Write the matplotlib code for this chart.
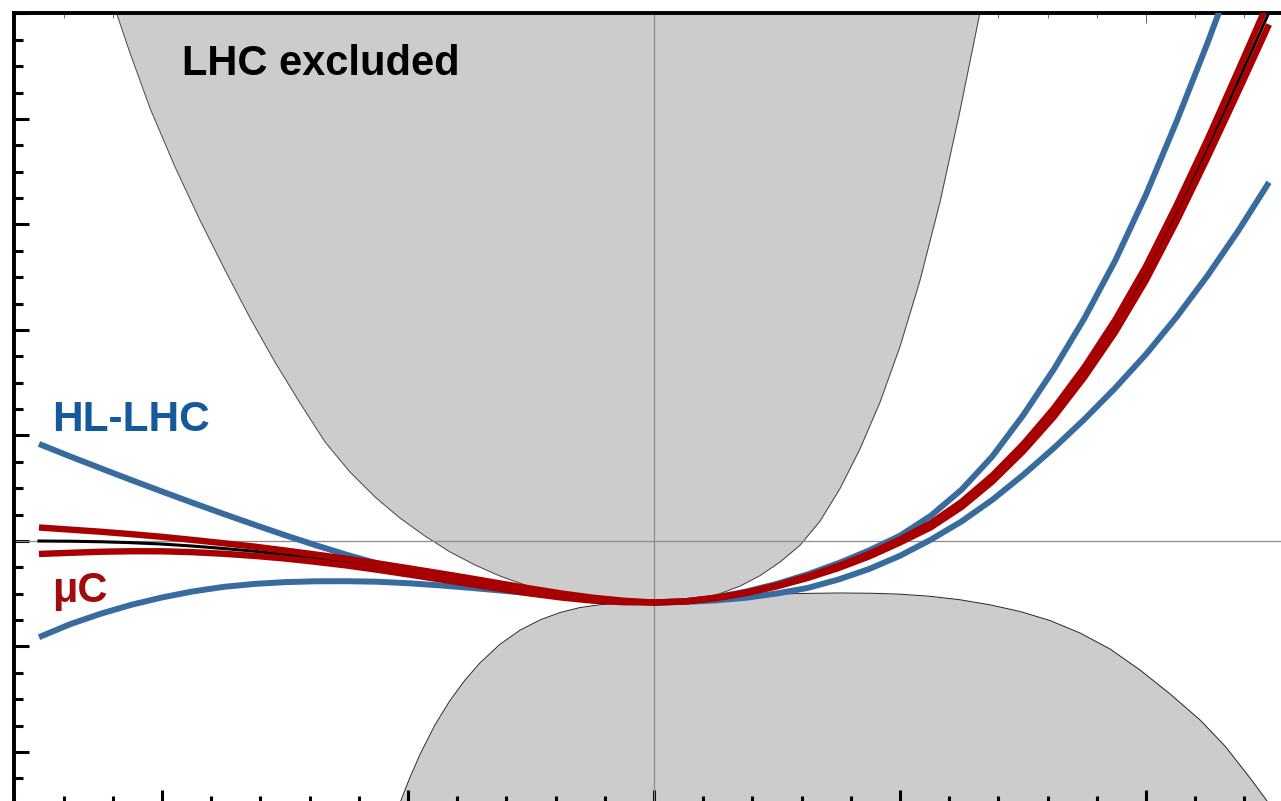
import matplotlib.pyplot as plt
from matplotlib.ticker import MultipleLocator, NullFormatter

plt.rcParams['font.family'] = ['Liberation Sans', 'DejaVu Sans']

# field value (major tick = 1) and potential (major tick = 1)
h = [-2.5, -2.375, -2.25, -2.125, -2.0, -1.875, -1.75, -1.625, -1.5, -1.375, -1.25,
     -1.125, -1.0, -0.875, -0.75, -0.625, -0.5, -0.375, -0.25, -0.125, 0.0,
     0.125, 0.25, 0.375, 0.5, 0.625, 0.75, 0.875, 1.0, 1.125, 1.25,
     1.375, 1.5, 1.625, 1.75, 1.875, 2.0, 2.125, 2.25, 2.375, 2.5]

v_sm = [0.0, -0.002, -0.007, -0.016, -0.029, -0.048, -0.071, -0.097, -0.128, -0.163, -0.200,
        -0.242, -0.287, -0.333, -0.380, -0.428, -0.475, -0.517, -0.551, -0.573, -0.583,
        -0.573, -0.541, -0.491, -0.425, -0.343, -0.246, -0.134, 0.0, 0.149, 0.346,
        0.591, 0.882, 1.216, 1.602, 2.038, 2.538, 3.11, 3.72, 4.36, 5.01]

muc_a = [0.128, 0.108, 0.088, 0.065, 0.0395, 0.010, -0.021, -0.053, -0.090, -0.1285, -0.168,
         -0.2115, -0.2575, -0.3045, -0.3525, -0.4025, -0.4515, -0.498, -0.537, -0.566, -0.583,
         -0.573, -0.543, -0.494, -0.430, -0.350, -0.256, -0.146, -0.014, 0.130, 0.322,
         0.563, 0.849, 1.176, 1.555, 1.981, 2.472, 3.034, 3.635, 4.26, 4.896]
muc_b = [-0.123, -0.112, -0.102, -0.097, -0.0975, -0.106, -0.121, -0.141, -0.166, -0.1975, -0.232,
         -0.2725, -0.3165, -0.3615, -0.4075, -0.4535, -0.4985, -0.536, -0.565, -0.580, -0.583,
         -0.573, -0.539, -0.488, -0.420, -0.336, -0.236, -0.122, 0.014, 0.168, 0.370,
         0.619, 0.915, 1.256, 1.649, 2.095, 2.604, 3.186, 3.805, 4.46, 5.124]

hl_a = [0.92, 0.803, 0.69, 0.578, 0.469, 0.362, 0.257, 0.155, 0.055, -0.040, -0.130,
        -0.212, -0.286, -0.350, -0.405, -0.452, -0.493, -0.528, -0.557, -0.575, -0.583,
        -0.578, -0.563, -0.538, -0.497, -0.445, -0.365, -0.265, -0.14, 0.012, 0.185,
        0.39, 0.625, 0.88, 1.155, 1.45, 1.77, 2.125, 2.515, 2.94, 3.40]
hl_b = [-0.912, -0.79, -0.69, -0.605, -0.535, -0.478, -0.435, -0.407, -0.390, -0.382, -0.381,
        -0.386, -0.40, -0.42, -0.443, -0.469, -0.496, -0.522, -0.548, -0.571, -0.583,
        -0.571, -0.535, -0.479, -0.406, -0.316, -0.21, -0.089, 0.05, 0.239, 0.486,
        0.801, 1.19, 1.626, 2.112, 2.658, 3.283, 3.98, 4.72, 5.50, 6.30]

# edges of the LHC excluded regions
up_x = [-2.203, -2.130, -2.049, -1.947, -1.846, -1.744, -1.642, -1.541, -1.439, -1.337,
        -1.236, -1.134, -1.033, -0.931, -0.829, -0.728, -0.626, -0.524, -0.423, -0.321,
        -0.220, -0.110, 0.0, 0.106, 0.187, 0.268, 0.350, 0.431, 0.512, 0.594, 0.675,
        0.756, 0.837, 0.919, 1.0, 1.081, 1.163, 1.244, 1.325, 1.346]
up_y = [5.128, 4.626, 4.104, 3.545, 3.043, 2.569, 2.114, 1.697, 1.308, 0.938,
        0.654, 0.417, 0.218, 0.047, -0.104, -0.227, -0.332, -0.417, -0.483, -0.531,
        -0.564, -0.581, -0.583, -0.571, -0.544, -0.499, -0.427, -0.328, -0.200, -0.039, 0.189,
        0.497, 0.871, 1.317, 1.843, 2.468, 3.217, 4.080, 5.009, 5.245]

lo_x = [-1.053, -1.033, -0.992, -0.951, -0.890, -0.829, -0.768, -0.707, -0.626, -0.545,
        -0.463, -0.382, -0.301, -0.220, -0.110, 0.0, 0.106, 0.187, 0.268, 0.390, 0.512,
        0.634, 0.756, 0.878, 1.0, 1.122, 1.244, 1.366, 1.488, 1.610, 1.732, 1.854, 1.976,
        2.098, 2.220, 2.321, 2.423, 2.492, 2.524]
lo_y = [-2.616, -2.485, -2.241, -2.023, -1.742, -1.511, -1.318, -1.155, -0.979, -0.846,
        -0.748, -0.678, -0.631, -0.604, -0.587, -0.583, -0.564, -0.546, -0.531, -0.515, -0.503,
        -0.496, -0.493, -0.495, -0.504, -0.524, -0.557, -0.605, -0.668, -0.754, -0.872, -1.024,
        -1.223, -1.450, -1.697, -1.943, -2.246, -2.464, -2.569]

blue = '#386b9e'
red = '#a80000'

fig = plt.figure(figsize=(12.81, 8.01), dpi=100)
ax = fig.add_axes([0.01124, -0.00468, 0.99859, 0.98783])
ax.set_xlim(-2.6, 2.6)
ax.set_ylim(-2.5, 5.0)

ax.fill_between(up_x, up_y, 6, color='#cccccc', lw=0, zorder=1)
ax.plot(up_x, up_y, color='#444444', lw=0.7, zorder=1.5)
ax.fill_between(lo_x, lo_y, -3, color='#cccccc', lw=0, zorder=1)
ax.plot(lo_x, lo_y, color='#222222', lw=0.7, zorder=1.5)

ax.axhline(0, color='#8a8a8a', lw=0.9, zorder=2)
ax.axvline(0, color='#8a8a8a', lw=0.9, zorder=2)

ax.plot(h, v_sm, color='black', lw=2.2, solid_joinstyle='round', zorder=3)
for v in (hl_a, hl_b):
    ax.plot(h, v, color=blue, lw=4.3, solid_capstyle='butt',
            solid_joinstyle='round', zorder=4)
for v in (muc_a, muc_b):
    ax.plot(h, v, color=red, lw=4.6, solid_capstyle='butt',
            solid_joinstyle='round', zorder=5)

ax.text(-1.919, 4.417, 'LHC excluded', fontsize=30, fontweight='bold',
        color='black', ha='left', va='baseline', zorder=6)
ax.text(-2.447, 1.043, 'HL-LHC', fontsize=30.5, fontweight='bold',
        color='#15589b', ha='left', va='baseline', zorder=6)
ax.text(-2.447, -0.578, 'μC', fontsize=30, fontweight='bold',
        color='#a00b0b', ha='left', va='baseline', zorder=6)

# frame ticks
ax.xaxis.set_major_locator(MultipleLocator(1))
ax.xaxis.set_minor_locator(MultipleLocator(0.2))
ax.yaxis.set_major_locator(MultipleLocator(1))
ax.yaxis.set_minor_locator(MultipleLocator(0.25))
ax.tick_params(which='both', direction='in', width=2.2, top=False, right=False,
               labelleft=False, labelbottom=False)
ax.tick_params(which='major', length=10.8)
ax.tick_params(which='minor', length=6.5)
for s in ax.spines.values():
    s.set_linewidth(2.8)

top = ax.secondary_xaxis('top')
top.xaxis.set_major_locator(MultipleLocator(1))
top.xaxis.set_minor_locator(MultipleLocator(0.2))
top.xaxis.set_major_formatter(NullFormatter())
top.tick_params(which='both', direction='in', width=0.7, color='#666666')
top.tick_params(which='major', length=7)
top.tick_params(which='minor', length=3.6)
top.spines['top'].set_visible(False)

fig.savefig('out.png', dpi=100)
